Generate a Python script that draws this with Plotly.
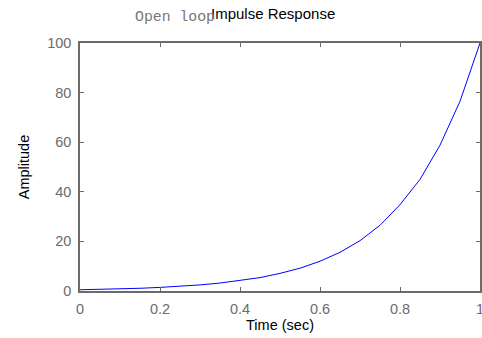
import plotly.graph_objects as go

# amplitudes
t_sec = [0.0, 0.05, 0.1, 0.15, 0.2, 0.25, 0.3, 0.35, 0.4, 0.45, 0.5,
         0.55, 0.6, 0.65, 0.7, 0.75, 0.8, 0.85, 0.9, 0.95, 1.0]
amplitude = [0.5, 0.65, 0.85, 1.1, 1.45, 1.9, 2.45, 3.2, 4.15, 5.4, 7.1,
             9.2, 12.0, 15.6, 20.3, 26.5, 34.8, 45.0, 58.8, 76.5, 100.0]
x_ticks = [0, 0.2, 0.4, 0.6, 0.8, 1]
y_ticks = [0, 20, 40, 60, 80, 100]

grey = "#6b6b6b"
sans = "Liberation Sans"
fig = go.Figure(go.Scatter(x=t_sec, y=amplitude, mode="lines",
                           line=dict(color="#0000ff", width=1)))

axis = dict(showline=True, linecolor=grey, linewidth=1.5, mirror="ticks",
            ticks="inside", ticklen=4, tickcolor=grey, showgrid=False,
            zeroline=False, ticklabelstandoff=4, ticklabeloverflow="allow",
            automargin=False,
            tickfont=dict(family=sans, size=14.5, color=grey))
fig.update_xaxes(axis, range=[0, 1], tickvals=x_ticks,
                 ticktext=["0", "0.2", "0.4", "0.6", "0.8", "1"],
                 title=dict(text="Time (sec)", standoff=4,
                            font=dict(family=sans, size=14.5, color="black")))
fig.update_yaxes(axis, range=[0, 100], tickvals=y_ticks,
                 title=dict(text="Amplitude", standoff=14,
                            font=dict(family=sans, size=14.5, color="black")))

fig.update_layout(
    width=482, height=338, showlegend=False,
    plot_bgcolor="white", paper_bgcolor="white",
    margin=dict(l=80, r=2, t=43, b=47),
    annotations=[
        dict(text="Impulse Response", xref="paper", yref="paper",
             x=0.4825, y=1, yshift=19, xanchor="center", yanchor="bottom",
             showarrow=False,
             font=dict(family=sans, size=15, color="black")),
        dict(text="Open loop", xref="paper", yref="paper",
             x=0.1325, y=1, yshift=16, xanchor="left", yanchor="bottom",
             showarrow=False,
             font=dict(family="Liberation Mono", size=14.8, color="#777777")),
    ],
)
fig.write_html("out.html", config={"displayModeBar": False},
               post_script="document.body.style.margin='0';")
